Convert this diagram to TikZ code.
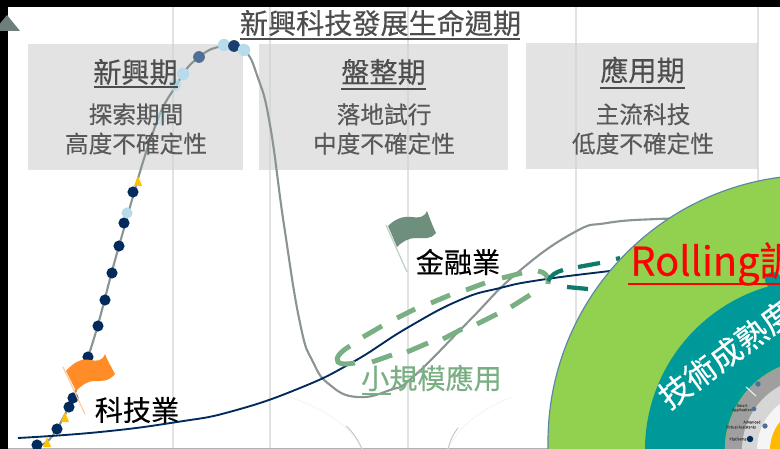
\documentclass[tikz,border=0pt]{standalone}
\usepackage{fontspec}
\setmainfont{Noto Sans CJK TC}[FakeBold=0.35]
\definecolor{headgray}{HTML}{4D4D4D}
\definecolor{bodygray}{HTML}{595959}
\definecolor{boxgray}{HTML}{E3E3E3}
\definecolor{gridgray}{HTML}{CFCFCF}
\definecolor{curvegray}{HTML}{8A9492}
\definecolor{axisgray}{HTML}{6E7F7B}
\definecolor{navy}{HTML}{002B5C}
\definecolor{paleblue}{HTML}{B7DBEA}
\definecolor{midblue}{HTML}{4F6F96}
\definecolor{amber}{HTML}{FFC000}
\definecolor{flagorange}{HTML}{FF8C26}
\definecolor{flaggreen}{HTML}{6F8F7D}
\definecolor{softgreen}{HTML}{7AAF84}
\definecolor{deepgreen}{HTML}{0E7A68}
\definecolor{limegreen}{HTML}{92D050}
\definecolor{tealfill}{HTML}{009999}
\definecolor{ringblue}{HTML}{5B86A8}
\tikzset{
  stagebox/.style={fill=boxgray,draw=none},
  gridline/.style={gridgray,opacity=0.6,line width=1.1pt},
  stagehead/.style={text=headgray,font=\fontsize{24}{28}\selectfont,inner sep=0pt},
  stagebody/.style={text=bodygray,font=\fontsize{20.2}{25}\selectfont,inner sep=0pt,align=center},
  headrule/.style={headgray,line width=1.4pt},
  fielddash/.style={softgreen,line width=4.2pt},
  deepdash/.style={deepgreen,line width=3.6pt},
  dotnavy/.style={circle,fill=navy,inner sep=0pt,minimum size=9.5pt},
  dotpale/.style={circle,fill=paleblue,inner sep=0pt,minimum size=10.5pt},
  dotmid/.style={circle,fill=midblue,inner sep=0pt,minimum size=10pt},
  tinylabel/.style={text=black!70,font=\fontsize{3.2}{3.6}\selectfont,inner sep=0pt,align=center}
}
\begin{document}
\begin{tikzpicture}[x=0.3mm,y=-0.3mm]
  \useasboundingbox (0,0) rectangle (780,449);
  \clip (0,0) rectangle (780,449);
  \fill[white] (0,0) rectangle (780,449);
  % stage boxes
  \node[stagebox,minimum width=215*0.853pt,minimum height=126*0.853pt] (boxnew) at (135.5,107) {};
  \node[stagebox,minimum width=249*0.853pt,minimum height=126*0.853pt] (boxshake) at (383.5,107) {};
  \node[stagebox,minimum width=232*0.853pt,minimum height=126*0.853pt] (boxuse) at (642,106) {};
  % grid
  \foreach \x in {173,270,408,576,758}{
    \draw[gridline] (\x,7) -- (\x,449);
  }
  \draw[gray!60,line width=0.8pt] (8,448) -- (780,448);
  % faint arcs at the foot
  \draw[gray!8,line width=0.8pt] (290,397) .. controls (325,410) and (350,425) .. (362,449);
  \draw[gray!8,line width=0.8pt] (512,397) .. controls (480,410) and (460,425) .. (448,449);
  \draw[gray!45,line width=0.8pt] (346,426) .. controls (353,432) and (358,440) .. (362,449);
  \draw[gray!45,line width=0.8pt] (458,428) .. controls (453,434) and (450,441) .. (448,449);
  % axis
  \fill[black] (0,0) rectangle (780,7);
  \fill[black] (0,0) rectangle (8,449);
  \fill[axisgray] (-6,31) -- (7,15) -- (20,31) -- cycle;
  % life cycle curve
  \draw[curvegray,line width=1.8pt] plot[smooth,tension=0.8] coordinates {
    (37,445) (57,429) (88,357) (119,246) (152,135)
    (177,84) (199,57) (224,46) (244,50) (258,78) (270,125) (284,225)
    (300,323) (313,362) (330,385) (357,397) (390,390) (413,377)
    (467,323) (517,273) (573,233) (607,223) (657,219) (690,219)};
  \foreach \x/\y in {37/445,57/429,69/407,73/398,88/357,98/326,105/300,112/273,119/246,124/223,133/192}{
    \node[dotnavy] (lead\x) at (\x,\y) {};
  }
  \node[dotpale,minimum size=9.5pt] (pale1) at (127,213) {};
  \node[dotpale,opacity=0.5] (pale2) at (160,118) {};
  \node[dotpale,opacity=0.8] (pale3) at (175,85) {};
  \node[dotpale] (pale4) at (183,74) {};
  \node[dotmid] (mid1) at (199,57) {};
  \node[dotpale] (pale5) at (224,45) {};
  \node[dotmid,fill=navy!70!midblue] (mid2) at (234,46) {};
  \node[dotpale] (pale6) at (244,50) {};
  \foreach \x/\y in {47/442,65/417,138/181}{
    \fill[amber] (\x-4,\y+5) -- (\x,\y-5) -- (\x+4,\y+5) -- cycle;
  }
  % orange flag
  \draw[flagorange!45,line width=1pt] (63,367) -- (85,414);
  \fill[flagorange] (66,371) .. controls (74,362) and (82,358) .. (90,360)
    .. controls (96,361) and (102,362) .. (105,354)
    .. controls (108,362) and (112,368) .. (115,374)
    .. controls (108,382) and (102,381) .. (94,381)
    .. controls (88,381) and (82,385) .. (76,391) -- cycle;
  % green flag
  \draw[flaggreen!45,line width=1pt] (386,225) -- (407,272);
  \fill[flaggreen] (388,226) .. controls (396,218) and (404,216) .. (412,217)
    .. controls (418,218) and (424,218) .. (427,211)
    .. controls (430,219) and (433,227) .. (436,233)
    .. controls (430,240) and (424,238) .. (416,238)
    .. controls (409,238) and (403,241) .. (397,247) -- cycle;
  % market curve
  \draw[navy,line width=1.6pt] plot[smooth,tension=0.8] coordinates {
    (18,438) (100,432) (177,422) (233,411) (300,388) (353,362)
    (407,328) (460,300) (500,288) (540,280) (610,271) (640,268)};
  % small-scale loop
  \foreach \ax/\ay/\bx/\by in {363/337/382/326,397/318/415/309,431/303/450/295,
      466/290/485/283,502/278/522/273,530/295/511/307,497/314/477/324,
      462/329/443/339,428/343/407/352,392/355/372/362}{
    \draw[fielddash] (\ax,\ay) -- (\bx,\by);
  }
  \draw[fielddash] (538,271) .. controls (545,272) and (549,276) .. (548,284);
  \draw[fielddash] (350,346) .. controls (340,352) and (335,358) .. (338,362) .. controls (341,365) and (348,364) .. (355,363);
  \draw[deepdash] (548,281) .. controls (551,275) and (556,272) .. (563,270);
  \draw[deepdash] (578,267) -- (600,263);
  \draw[deepdash] (567,287) -- (588,289);
  \draw[deepdash] (616,259) -- (620,258);
  % maturity discs
  \fill[limegreen,draw=ringblue,line width=1pt] (815,442) circle (267);
  \fill[tealfill] (815,450) circle (170);
  \fill[tealfill] (773,280) circle (8);
  \fill[gray!75,draw=limegreen!70!gray,line width=0.5pt] (815,450) circle (90);
  \fill[gray!32] (815,450) circle (73);
  \fill[white!92!gray] (815,450) circle (58);
  \fill[amber!90!orange] (815,450) circle (45);
  \draw[white!85!gray,line width=1pt] (746,387) -- (756,396);
  \node[dotnavy,minimum size=5.5pt] (techa) at (750,439) {};
  \node[dotmid,minimum size=4.5pt] (techb) at (765,426) {};
  \node[dotmid,minimum size=4pt] (techc) at (754,409) {};
  \node[dotmid,minimum size=4.5pt] (techd) at (758,384) {};
  \node[tinylabel] (labplat) at (738,439) {Platforms};
  \node[tinylabel] (labadv) at (752,422) {Advanced};
  \node[tinylabel] (labvirt) at (741,427) {Virtual Assistants};
  \node[tinylabel] (labsmart) at (742,408) {Smart\\Application};
  % texts
  \node[stagehead] (title) at (380.5,23) {新興科技發展生命週期};
  \draw[headrule] (240,39) -- (520,39);
  \node[stagehead] (headnew) at (135.5,72) {新興期};
  \draw[headrule] (94,87) -- (178,87);
  \node[stagehead] (headshake) at (383.5,72) {盤整期};
  \draw[headrule] (341,89) -- (426,89);
  \node[stagehead] (headuse) at (642.5,70) {應用期};
  \draw[headrule] (600,88) -- (685,88);
  \node[stagebody] (bodynew) at (136,129) {探索期間\\高度不確定性};
  \node[stagebody] (bodyshake) at (384,129) {落地試行\\中度不確定性};
  \node[stagebody] (bodyuse) at (643,129) {主流科技\\低度不確定性};
  \node[font=\fontsize{24}{28}\selectfont,inner sep=0pt] (labtech) at (137,410) {科技業};
  \node[font=\fontsize{24}{28}\selectfont,inner sep=0pt] (labfin) at (458,262) {金融業};
  \node[text=softgreen,font=\fontsize{24}{28}\selectfont,inner sep=0pt] (labsmall) at (431.5,378) {小規模應用};
  \draw[softgreen,line width=1.2pt] (362,394) -- (391,394);
  \node[text=red,font=\fontsize{34}{38}\selectfont,inner sep=0pt,anchor=west] (labroll) at (630,264) {Rolling調};
  \draw[red,line width=1.8pt] (628,284) -- (780,284);
  \node[text=white,font=\fontsize{27}{31}\selectfont,inner sep=0pt,rotate=36] (labmature) at (726,354) {技術成熟度};
\end{tikzpicture}
\end{document}
